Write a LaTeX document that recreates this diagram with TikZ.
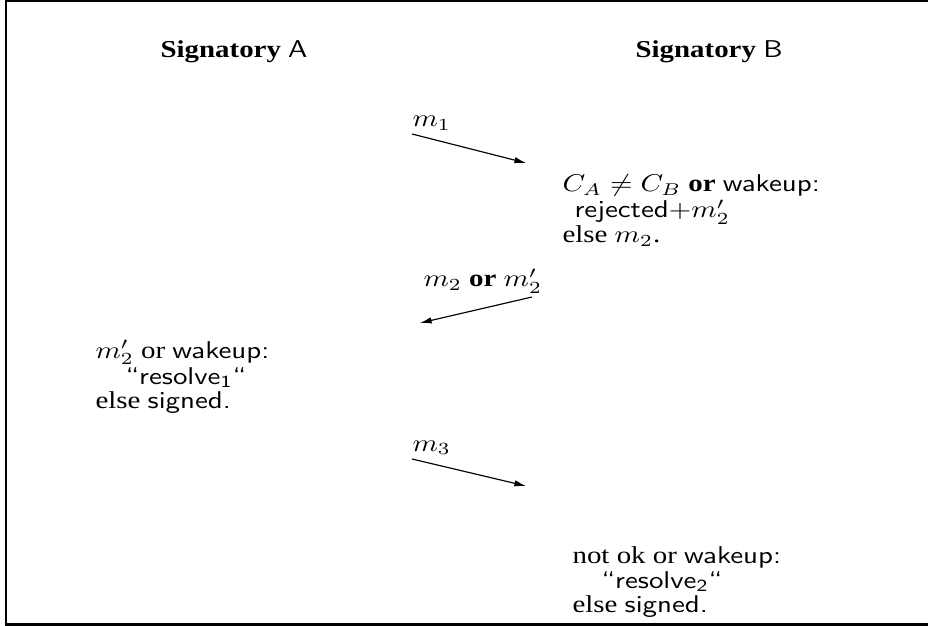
\documentclass[tikz,border=0pt]{standalone}
\usepackage[no-math]{fontspec}
\usepackage{graphicx}
\setmainfont{Liberation Serif}
\usetikzlibrary{arrows.meta}
\newcommand{\vsq}[1]{\scalebox{1}[0.84]{#1}}
\begin{document}
\begin{tikzpicture}[x=0.346pt,y=-0.346pt,
  txt/.style={anchor=base west, inner sep=0pt, font=\fontsize{10}{12}\selectfont},
  msg/.style={-{Latex[length=4pt,width=2.2pt]}, line width=0.4pt}]
\useasboundingbox (0,0) rectangle (928,626);
\draw[line width=0.7pt] (6,1) rectangle (940,624.5);
% titles
\node[txt] (ta) at (160,58) {\vsq{\textbf{Signatory} \textsf{A}}};
\node[txt] (tb) at (635,58) {\vsq{\textbf{Signatory} \textsf{B}}};
% message 1
\coordinate (a1s) at (412,134);
\coordinate (a1e) at (526,163);
\node[txt] (m1) at (412,127) {\vsq{$m_1$}};
\draw[msg] (a1s) -- (a1e);
% block B
\node[txt] (b1) at (562,192) {\vsq{$C_A\neq C_B$ \textbf{or} \textsf{wakeup:}}};
\node[txt] (b2) at (574,218) {\vsq{\textsf{rejected+}$m_2'$}};
\node[txt] (b3) at (562,243) {\vsq{else $m_2$.}};
% message 2
\coordinate (a2s) at (532,297);
\coordinate (a2e) at (420,323);
\node[txt] (m2) at (423,287) {\vsq{$m_2$ \textbf{or} $m_2'$}};
\draw[msg] (a2s) -- (a2e);
% block A
\node[txt] (c1) at (95,358) {\vsq{$m_2'$ or \textsf{wakeup:}}};
\node[txt] (c2) at (125,384) {\vsq{\textsf{“resolve\textsubscript{1}“}}};
\node[txt] (c3) at (95,408) {\vsq{else \textsf{signed.}}};
% message 3
\coordinate (a3s) at (412,459);
\coordinate (a3e) at (526,486);
\node[txt] (m3) at (412,451) {\vsq{$m_3$}};
\draw[msg] (a3s) -- (a3e);
% block C
\node[txt] (d1) at (572,563) {\vsq{not ok or \textsf{wakeup:}}};
\node[txt] (d2) at (601,588) {\vsq{\textsf{“resolve\textsubscript{2}“}}};
\node[txt] (d3) at (572,612) {\vsq{else \textsf{signed.}}};
\end{tikzpicture}
\end{document}
